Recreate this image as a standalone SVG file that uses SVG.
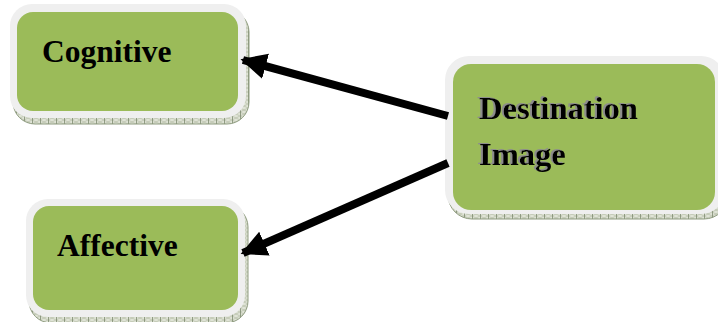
<svg xmlns="http://www.w3.org/2000/svg" width="718" height="322" viewBox="0 0 718 322">
  <style>
    .shadow { fill: url(#hatch); stroke: #8f9c80; stroke-width: 1; }
    .rim { fill: #efefef; }
    .face { fill: #9bbb59; }
    .label { font-family: "Liberation Serif", "Times New Roman", serif; font-weight: bold; font-size: 31.5px; fill: #000; }
    .embossed { font-size: 32.5px; filter: url(#textShade); }
    .link { stroke: #000; stroke-width: 8; fill: none; marker-end: url(#head); }
  </style>
  <defs>
    <pattern id="hatch" width="8" height="4" patternUnits="userSpaceOnUse">
      <rect width="8" height="4" fill="#dfe3d6"/>
      <path d="M0 0 L8 4 M8 0 L0 4" stroke="#a5ae97" stroke-width="0.5"/>
      <path d="M0.5 0 V4" stroke="#7d8a6e" stroke-width="0.8"/>
    </pattern>
    <filter id="textShade" x="-10%" y="-30%" width="120%" height="160%">
      <feOffset in="SourceAlpha" dx="-2" dy="-1.5" result="moved"/>
      <feFlood flood-color="#8c8c8c"/>
      <feComposite in2="moved" operator="in" result="grey"/>
      <feMerge>
        <feMergeNode in="grey"/>
        <feMergeNode in="SourceGraphic"/>
      </feMerge>
    </filter>
    <marker id="head" viewBox="0 0 10 10" refX="9" refY="5" markerWidth="26" markerHeight="26" markerUnits="userSpaceOnUse" orient="auto">
      <path d="M0 0 L10 5 L0 10 Z" fill="#000"/>
    </marker>
  </defs>

  <g id="cognitive">
    <rect class="shadow" x="13" y="10" width="236" height="114" rx="22"/>
    <rect class="rim" x="10" y="4" width="236" height="114" rx="22"/>
    <rect class="face" x="17" y="12" width="221" height="99" rx="16"/>
    <text class="label" x="42" y="62">Cognitive</text>
  </g>

  <g id="affective">
    <rect class="shadow" x="29" y="205" width="219" height="118" rx="22"/>
    <rect class="rim" x="26" y="199" width="219" height="118" rx="22"/>
    <rect class="face" x="33" y="206" width="205" height="104" rx="16"/>
    <text class="label" x="57" y="256">Affective</text>
  </g>

  <g id="destination-image">
    <rect class="shadow" x="448" y="62" width="280" height="157" rx="24"/>
    <rect class="rim" x="445" y="56" width="280" height="158" rx="24"/>
    <rect class="face" x="453" y="64" width="262" height="146" rx="18"/>
    <text class="label embossed" x="479" y="119">Destination</text>
    <text class="label embossed" x="479" y="165">Image</text>
  </g>

  <g id="connectors">
    <line class="link" x1="448" y1="116" x2="243" y2="60"/>
    <line class="link" x1="448" y1="163" x2="243" y2="253"/>
  </g>
</svg>
